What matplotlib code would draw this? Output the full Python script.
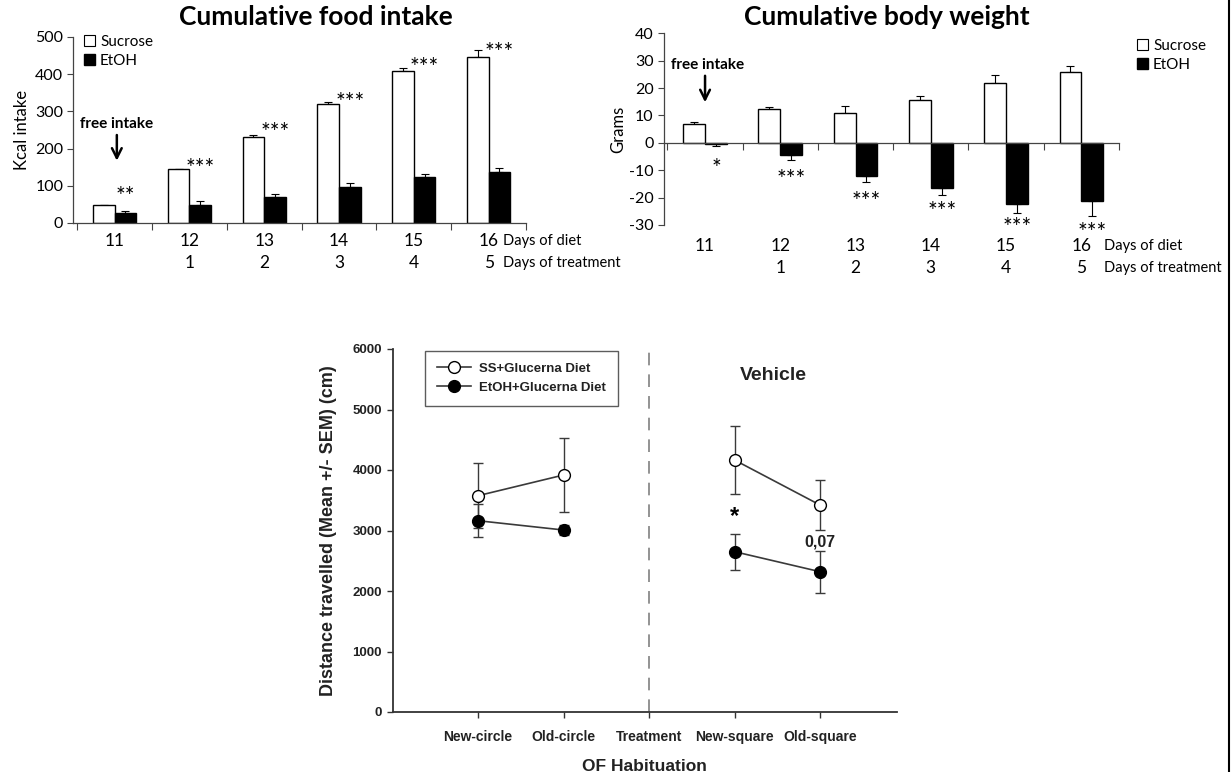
import numpy as np
import matplotlib.pyplot as plt
from matplotlib.patches import Patch
from matplotlib.lines import Line2D

plt.rcParams['axes.unicode_minus'] = False

W, H = 1231, 772

# ---- data ----
days_diet = ['11', '12', '13', '14', '15', '16']
days_treat = ['', '1', '2', '3', '4', '5']

food_sucrose = [49, 146, 232, 319, 409, 447]
food_sucrose_err = [0, 0, 4, 5, 7, 18]
food_etoh = [28, 49, 71, 98, 123, 136]
food_etoh_err = [5, 9, 7, 9, 9, 12]
food_sig = ['**', '***', '***', '***', '***', '***']
food_sig_y = [89, 164, 263, 344, 438, 478]

bw_sucrose = [6.7, 12.2, 11.0, 15.6, 21.9, 25.8]
bw_sucrose_err = [1.0, 0.8, 2.6, 1.4, 2.7, 2.2]
bw_etoh = [-0.3, -4.5, -12.2, -16.4, -22.2, -21.3]
bw_etoh_err = [1.0, 1.8, 2.2, 2.5, 3.4, 5.5]
bw_sig = ['*', '***', '***', '***', '***', '***']
bw_sig_y = [-6.8, -10.8, -18.9, -22.5, -28.5, -30.3]

of_phases = ['New-circle', 'Old-circle', 'Treatment', 'New-square', 'Old-square']
ss_mean = [3575, 3917, np.nan, 4165, 3421]
ss_sem = [535, 605, np.nan, 560, 408]
etoh_mean = [3162, 3008, np.nan, 2650, 2319]
etoh_sem = [275, 85, np.nan, 298, 345]

TOP_FONT = 'Lato'
BOT_FONT = 'Liberation Sans'


def px_axes(fig, left, top, right, bottom):
    return fig.add_axes([left / W, 1 - bottom / H, (right - left) / W, (bottom - top) / H])


def bar_panel(ax, suc, suc_err, eth, eth_err, up_etoh, lab_off):
    x = np.arange(len(suc))
    bw = 0.29
    ax.bar(x - bw / 2, suc, bw, color='white', edgecolor='black', linewidth=1.0, zorder=2)
    ax.bar(x + bw / 2, eth, bw, color='black', edgecolor='black', linewidth=1.0, zorder=2)
    zeros = [0] * len(suc)
    ax.errorbar(x - bw / 2, suc, yerr=[zeros, suc_err], fmt='none', ecolor='black',
                elinewidth=0.8, capsize=3, capthick=0.8, zorder=1)
    eerr = [zeros, eth_err] if up_etoh else [eth_err, zeros]
    ax.errorbar(x + bw / 2, eth, yerr=eerr, fmt='none', ecolor='black',
                elinewidth=0.8, capsize=3, capthick=0.8, zorder=1)
    ax.spines['top'].set_visible(False)
    ax.spines['right'].set_visible(False)
    ax.set_xticks(np.arange(-0.5, len(suc)))
    ax.set_xticklabels([])
    ax.tick_params(axis='x', direction='out', length=5, width=0.8, color='#444444')
    ax.tick_params(axis='y', direction='out', length=4, width=0.8, color='#444444',
                   labelsize=11.5, pad=3)
    for lab in ax.get_yticklabels():
        lab.set_fontfamily(TOP_FONT)
    for s in ('left', 'bottom'):
        ax.spines[s].set_color('#444444')
        ax.spines[s].set_linewidth(0.9)
    tr = ax.get_xaxis_transform()
    for i in range(len(suc)):
        ax.annotate(days_diet[i], (i, 0), xycoords=tr, xytext=(0, -lab_off), textcoords='offset pixels',
                    ha='center', va='center', fontsize=12.5, family=TOP_FONT)
        ax.annotate(days_treat[i], (i, 0), xycoords=tr, xytext=(0, -lab_off - 22),
                    textcoords='offset pixels', ha='center', va='center', fontsize=12.5,
                    family=TOP_FONT)
    return tr


def stars(ax, labels, ys):
    # asterisks sit high in the em box, so pull them down a little
    for i, (s, y) in enumerate(zip(labels, ys)):
        ax.annotate(s, (i + 0.145, y), xytext=(0, -7), textcoords='offset pixels',
                    ha='center', va='center', fontsize=16.5, family=TOP_FONT,
                    annotation_clip=False)


def sweet_legend(ax, x0, y0):
    ax.legend(handles=[Patch(facecolor='white', edgecolor='black', linewidth=0.8, label='Sucrose'),
                       Patch(facecolor='black', edgecolor='black', label='EtOH')],
              loc='upper left', bbox_to_anchor=(x0 / W, 1 - y0 / H), bbox_transform=fig.transFigure,
              frameon=False, handlelength=0.75, handleheight=0.75, handletextpad=0.3,
              labelspacing=0.3, borderaxespad=0, borderpad=0, prop={'family': TOP_FONT, 'size': 11})


fig = plt.figure(figsize=(W / 100, H / 100), dpi=100)

# ---- cumulative food intake ----
ax1 = px_axes(fig, 73, 37, 526, 223)
tr1 = bar_panel(ax1, food_sucrose, food_sucrose_err, food_etoh, food_etoh_err, up_etoh=True,
                lab_off=18)
ax1.set_xlim(-0.556, 5.5)
ax1.set_ylim(0, 500)
ax1.set_yticks(range(0, 501, 100))
ax1.set_ylabel('Kcal intake', fontsize=12, family=TOP_FONT, labelpad=4)
fig.text(316 / W, 1 - 17 / H, 'Cumulative food intake', ha='center', va='center',
         fontsize=19, fontweight='bold', family=TOP_FONT)
ax1.annotate('Days of diet', (5.19, 0), xycoords=tr1, xytext=(0, -18), textcoords='offset pixels',
             ha='left', va='center', fontsize=10.5, family=TOP_FONT)
ax1.annotate('Days of treatment', (5.19, 0), xycoords=tr1, xytext=(0, -40), textcoords='offset pixels',
             ha='left', va='center', fontsize=10.5, family=TOP_FONT)
stars(ax1, food_sig, food_sig_y)
ax1.text(0.03, 266, 'free intake', ha='center', va='center', fontsize=11, fontweight='bold',
         family=TOP_FONT)
ax1.annotate('', xy=(0.03, 160), xytext=(0.03, 244),
             arrowprops=dict(arrowstyle='->,head_length=0.7,head_width=0.35', lw=1.8, color='black'))
sweet_legend(ax1, 84, 35)

# ---- cumulative body weight ----
ax2 = px_axes(fig, 663.5, 33.3, 1119, 225)
tr2 = bar_panel(ax2, bw_sucrose, bw_sucrose_err, bw_etoh, bw_etoh_err, up_etoh=False,
                lab_off=21)
ax2.set_xlim(-0.552, 5.5)
ax2.set_ylim(-30, 40)
ax2.set_yticks(range(-30, 41, 10))
ax2.spines['bottom'].set_position(('data', 0))
ax2.set_ylabel('Grams', fontsize=12, family=TOP_FONT, labelpad=2)
fig.text(887 / W, 1 - 17 / H, 'Cumulative body weight', ha='center', va='center',
         fontsize=19, fontweight='bold', family=TOP_FONT)
ax2.annotate('Days of diet', (5.3, 0), xycoords=tr2, xytext=(0, -21), textcoords='offset pixels',
             ha='left', va='center', fontsize=10.5, family=TOP_FONT)
ax2.annotate('Days of treatment', (5.3, 0), xycoords=tr2, xytext=(0, -43), textcoords='offset pixels',
             ha='left', va='center', fontsize=10.5, family=TOP_FONT)
stars(ax2, bw_sig, bw_sig_y)
ax2.text(0.03, 28.6, 'free intake', ha='center', va='center', fontsize=11, fontweight='bold',
         family=TOP_FONT)
ax2.annotate('', xy=(0.0, 13.8), xytext=(0.0, 25.5),
             arrowprops=dict(arrowstyle='->,head_length=0.7,head_width=0.35', lw=1.8, color='black'))
sweet_legend(ax2, 1137, 39)

# ---- open field habituation ----
ax3 = px_axes(fig, 392.5, 349, 897, 712)
xp = np.arange(1, len(of_phases) + 1)
ax3.axvline(3, color='#8a8a8a', lw=1.3, dashes=(7, 5), zorder=0)
line_kw = dict(color='#3a3a3a', lw=1.2, marker='o', ms=8.5, mec='black', mew=1.0)
ax3.errorbar(xp, ss_mean, yerr=ss_sem, mfc='white', ecolor='#3a3a3a', elinewidth=1.0,
             capsize=3.5, capthick=1.0, zorder=2, **line_kw)
ax3.errorbar(xp, etoh_mean, yerr=etoh_sem, mfc='black', ecolor='#3a3a3a', elinewidth=1.0,
             capsize=3.5, capthick=1.0, zorder=3, **line_kw)
ax3.set_xlim(0, 5.9)
ax3.set_ylim(0, 6000)
ax3.set_yticks(range(0, 6001, 1000))
ax3.set_xticks(xp)
ax3.set_xticklabels(of_phases, fontsize=10, fontweight='bold', family=BOT_FONT, color='#222222')
for lab in ax3.get_yticklabels():
    lab.set_fontfamily(BOT_FONT)
    lab.set_fontweight('bold')
ax3.tick_params(axis='y', labelsize=9.5, length=4, width=1.0, color='#333333', labelcolor='#222222')
ax3.tick_params(axis='x', length=4, width=1.0, color='#333333', pad=9)
ax3.spines['top'].set_visible(False)
ax3.spines['right'].set_visible(False)
for s in ('left', 'bottom'):
    ax3.spines[s].set_color('#333333')
    ax3.spines[s].set_linewidth(1.3)
ax3.set_ylabel('Distance travelled (Mean +/- SEM) (cm)', fontsize=13, fontweight='bold',
               family=BOT_FONT, color='#222222', labelpad=11)
ax3.set_xlabel('OF Habituation', fontsize=12.5, fontweight='bold', family=BOT_FONT,
               color='#222222', labelpad=11)
ax3.text(4.45, 5560, 'Vehicle', ha='center', va='center', fontsize=14, fontweight='bold',
         family=BOT_FONT, color='#222222')
ax3.text(4, 3223, '*', ha='center', va='center', fontsize=17, fontweight='bold', family=BOT_FONT)
ax3.text(5, 2810, '0,07', ha='center', va='center', fontsize=11.5, fontweight='bold',
         family=BOT_FONT, color='#222222')
handles = [Line2D([], [], mfc='white', label='SS+Glucerna Diet', **line_kw),
           Line2D([], [], mfc='black', label='EtOH+Glucerna Diet', **line_kw)]
leg = ax3.legend(handles=handles, loc='upper left', bbox_to_anchor=(425 / W, 1 - 351 / H),
                 bbox_transform=fig.transFigure, frameon=True, fancybox=False, edgecolor='#333333',
                 handlelength=2.6, borderaxespad=0, borderpad=0.9, labelspacing=0.5,
                 handletextpad=0.6, prop={'family': BOT_FONT, 'weight': 'bold', 'size': 9.5})
leg.get_frame().set_linewidth(1.0)
for t in leg.get_texts():
    t.set_color('#222222')

# frame line on the right edge
fig.add_artist(Line2D([1228.5 / W, 1228.5 / W], [0, 1], color='black', lw=1.5))

fig.savefig('out.png', dpi=100)
